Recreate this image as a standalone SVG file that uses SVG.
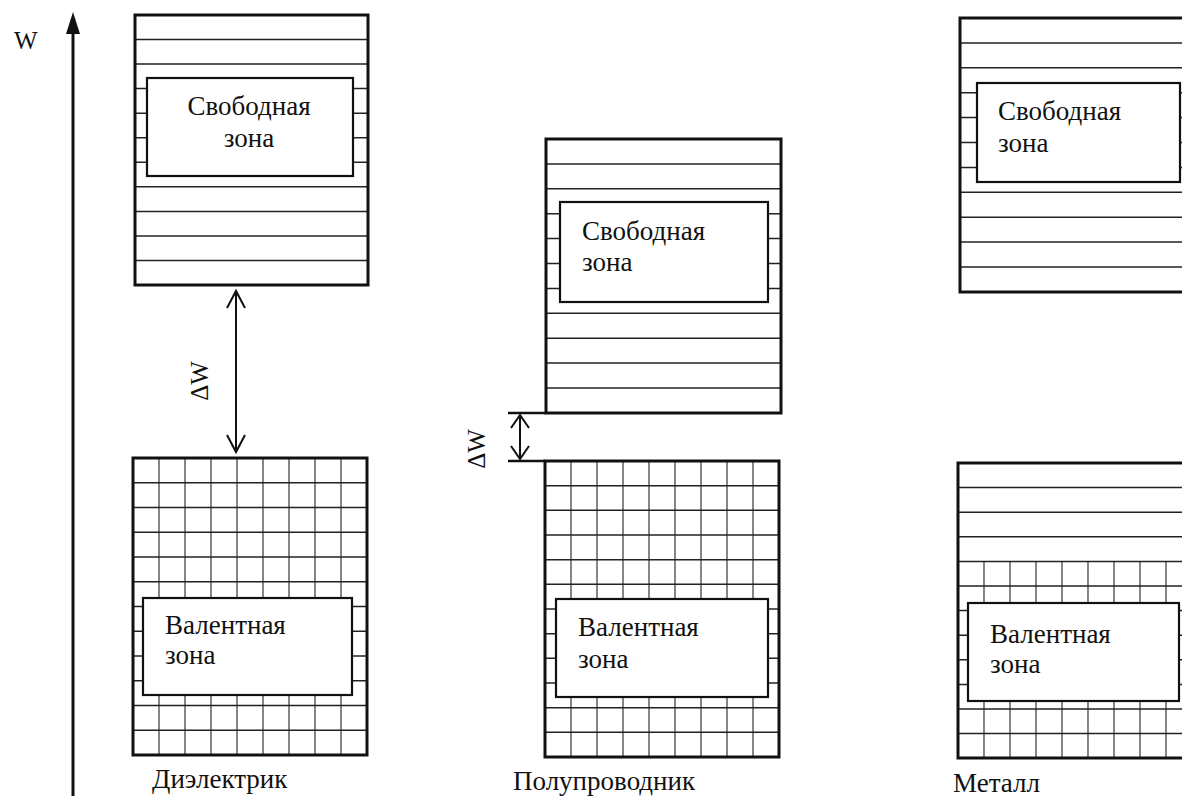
<svg xmlns="http://www.w3.org/2000/svg" width="1182" height="796" viewBox="0 0 1182 796">
<defs>
<style>
.frame{fill:none;stroke:#111;stroke-width:3}
.ln{stroke:#222;stroke-width:1.5}
.vg{stroke:#444;stroke-width:1.3}
.lbl{fill:#fff;stroke:#111;stroke-width:2.2}
.t{font-family:"Liberation Serif","Times New Roman",serif;font-size:27px;fill:#111}
.arr{fill:none;stroke:#111;stroke-width:2}
</style>
</defs>
<rect width="1182" height="796" fill="#fff"/>
<text class="t" x="14" y="49" style="font-size:25px">W</text>
<g id="axis">
<line x1="73" y1="30" x2="73" y2="796" stroke="#111" stroke-width="3"/>
<polygon points="73,12 66,34 80,34" fill="#111"/>
</g>

<g id="diel-free">
<g class="ln">
<line x1="135" y1="39.5" x2="368" y2="39.5"/><line x1="135" y1="64.1" x2="368" y2="64.1"/>
<line x1="135" y1="88.6" x2="368" y2="88.6"/><line x1="135" y1="113.2" x2="368" y2="113.2"/>
<line x1="135" y1="137.7" x2="368" y2="137.7"/><line x1="135" y1="162.3" x2="368" y2="162.3"/>
<line x1="135" y1="186.8" x2="368" y2="186.8"/><line x1="135" y1="211.4" x2="368" y2="211.4"/>
<line x1="135" y1="235.9" x2="368" y2="235.9"/><line x1="135" y1="260.5" x2="368" y2="260.5"/>
</g>
<rect class="frame" x="135" y="15" width="233" height="270"/>
<rect class="lbl" x="147" y="78" width="206" height="98"/>
<text class="t" x="249" y="115" text-anchor="middle">Свободная</text>
<text class="t" x="249" y="147" text-anchor="middle">зона</text>
</g>

<g id="diel-val">
<g class="vg">
<line x1="159" y1="458" x2="159" y2="755"/><line x1="185" y1="458" x2="185" y2="755"/>
<line x1="211" y1="458" x2="211" y2="755"/><line x1="237" y1="458" x2="237" y2="755"/>
<line x1="263" y1="458" x2="263" y2="755"/><line x1="289" y1="458" x2="289" y2="755"/>
<line x1="315" y1="458" x2="315" y2="755"/><line x1="341" y1="458" x2="341" y2="755"/>
</g>
<g class="ln">
<line x1="133" y1="482.75" x2="367" y2="482.75"/><line x1="133" y1="507.5" x2="367" y2="507.5"/>
<line x1="133" y1="532.25" x2="367" y2="532.25"/><line x1="133" y1="557" x2="367" y2="557"/>
<line x1="133" y1="581.75" x2="367" y2="581.75"/><line x1="133" y1="606.5" x2="367" y2="606.5"/>
<line x1="133" y1="631.25" x2="367" y2="631.25"/><line x1="133" y1="656" x2="367" y2="656"/>
<line x1="133" y1="680.75" x2="367" y2="680.75"/><line x1="133" y1="705.5" x2="367" y2="705.5"/>
<line x1="133" y1="730.25" x2="367" y2="730.25"/>
</g>
<rect class="frame" x="133" y="458" width="234" height="297"/>
<rect class="lbl" x="143" y="598" width="209" height="97"/>
<text class="t" x="165" y="634">Валентная</text>
<text class="t" x="165" y="664">зона</text>
</g>
<text class="t" x="152" y="788">Диэлектрик</text>

<g id="semi-free">
<g class="ln">
<line x1="546" y1="163.9" x2="781" y2="163.9"/><line x1="546" y1="188.8" x2="781" y2="188.8"/>
<line x1="546" y1="213.7" x2="781" y2="213.7"/><line x1="546" y1="238.6" x2="781" y2="238.6"/>
<line x1="546" y1="263.5" x2="781" y2="263.5"/><line x1="546" y1="288.4" x2="781" y2="288.4"/>
<line x1="546" y1="313.3" x2="781" y2="313.3"/><line x1="546" y1="338.2" x2="781" y2="338.2"/>
<line x1="546" y1="363.1" x2="781" y2="363.1"/><line x1="546" y1="388" x2="781" y2="388"/>
</g>
<rect class="frame" x="546" y="139" width="235" height="274"/>
<rect class="lbl" x="560" y="202" width="208" height="100"/>
<text class="t" x="582" y="240">Свободная</text>
<text class="t" x="582" y="271">зона</text>
</g>

<g id="semi-val">
<g class="vg">
<line x1="571" y1="461" x2="571" y2="757"/><line x1="597" y1="461" x2="597" y2="757"/>
<line x1="623" y1="461" x2="623" y2="757"/><line x1="649" y1="461" x2="649" y2="757"/>
<line x1="675" y1="461" x2="675" y2="757"/><line x1="701" y1="461" x2="701" y2="757"/>
<line x1="727" y1="461" x2="727" y2="757"/><line x1="753" y1="461" x2="753" y2="757"/>
</g>
<g class="ln">
<line x1="545" y1="485.7" x2="779" y2="485.7"/><line x1="545" y1="510.3" x2="779" y2="510.3"/>
<line x1="545" y1="535" x2="779" y2="535"/><line x1="545" y1="559.7" x2="779" y2="559.7"/>
<line x1="545" y1="584.3" x2="779" y2="584.3"/><line x1="545" y1="609" x2="779" y2="609"/>
<line x1="545" y1="633.7" x2="779" y2="633.7"/><line x1="545" y1="658.3" x2="779" y2="658.3"/>
<line x1="545" y1="683" x2="779" y2="683"/><line x1="545" y1="707.7" x2="779" y2="707.7"/>
<line x1="545" y1="732.3" x2="779" y2="732.3"/>
</g>
<rect class="frame" x="545" y="461" width="234" height="296"/>
<rect class="lbl" x="556" y="599" width="212" height="98"/>
<text class="t" x="578" y="636">Валентная</text>
<text class="t" x="578" y="668">зона</text>
</g>
<text class="t" x="513" y="790">Полупроводник</text>

<g id="metal-free">
<g class="ln">
<line x1="960" y1="42.9" x2="1220" y2="42.9"/><line x1="960" y1="67.8" x2="1220" y2="67.8"/>
<line x1="960" y1="92.7" x2="1220" y2="92.7"/><line x1="960" y1="117.6" x2="1220" y2="117.6"/>
<line x1="960" y1="142.5" x2="1220" y2="142.5"/><line x1="960" y1="167.4" x2="1220" y2="167.4"/>
<line x1="960" y1="192.3" x2="1220" y2="192.3"/><line x1="960" y1="217.2" x2="1220" y2="217.2"/>
<line x1="960" y1="242.1" x2="1220" y2="242.1"/><line x1="960" y1="267" x2="1220" y2="267"/>
</g>
<rect class="frame" x="960" y="18" width="260" height="274"/>
<rect class="lbl" x="977" y="83" width="203" height="99"/>
<text class="t" x="998" y="120">Свободная</text>
<text class="t" x="998" y="152">зона</text>
</g>

<g id="metal-val">
<g class="vg">
<line x1="984" y1="561.4" x2="984" y2="758"/><line x1="1010" y1="561.4" x2="1010" y2="758"/>
<line x1="1036" y1="561.4" x2="1036" y2="758"/><line x1="1062" y1="561.4" x2="1062" y2="758"/>
<line x1="1088" y1="561.4" x2="1088" y2="758"/><line x1="1114" y1="561.4" x2="1114" y2="758"/>
<line x1="1140" y1="561.4" x2="1140" y2="758"/><line x1="1166" y1="561.4" x2="1166" y2="758"/>
</g>
<g class="ln">
<line x1="958" y1="487.6" x2="1220" y2="487.6"/><line x1="958" y1="512.2" x2="1220" y2="512.2"/>
<line x1="958" y1="536.8" x2="1220" y2="536.8"/><line x1="958" y1="561.4" x2="1220" y2="561.4"/>
<line x1="958" y1="586" x2="1220" y2="586"/><line x1="958" y1="610.6" x2="1220" y2="610.6"/>
<line x1="958" y1="635.2" x2="1220" y2="635.2"/><line x1="958" y1="659.8" x2="1220" y2="659.8"/>
<line x1="958" y1="684.4" x2="1220" y2="684.4"/><line x1="958" y1="709" x2="1220" y2="709"/>
<line x1="958" y1="733.6" x2="1220" y2="733.6"/>
</g>
<rect class="frame" x="958" y="463" width="262" height="295"/>
<rect class="lbl" x="968" y="603" width="211" height="98"/>
<text class="t" x="990" y="643">Валентная</text>
<text class="t" x="990" y="673">зона</text>
</g>
<text class="t" x="953" y="792">Металл</text>

<g id="connectors">
<line x1="236" y1="291" x2="236" y2="452" stroke="#111" stroke-width="2"/>
<polyline class="arr" points="227,308 236,291 245,308"/>
<polyline class="arr" points="227,435 236,452 245,435"/>
<line x1="508" y1="413" x2="546" y2="413" stroke="#111" stroke-width="2.5"/>
<line x1="508" y1="461" x2="545" y2="461" stroke="#111" stroke-width="2.5"/>
<line x1="520" y1="415" x2="520" y2="459" stroke="#111" stroke-width="2"/>
<polyline class="arr" points="511,428 520,415 529,428"/>
<polyline class="arr" points="511,446 520,459 529,446"/>
</g>
<text class="t" transform="translate(208,381) rotate(-90)" text-anchor="middle" style="font-size:25px">ΔW</text>
<text class="t" transform="translate(485,449) rotate(-90)" text-anchor="middle" style="font-size:25px">ΔW</text>
</svg>
